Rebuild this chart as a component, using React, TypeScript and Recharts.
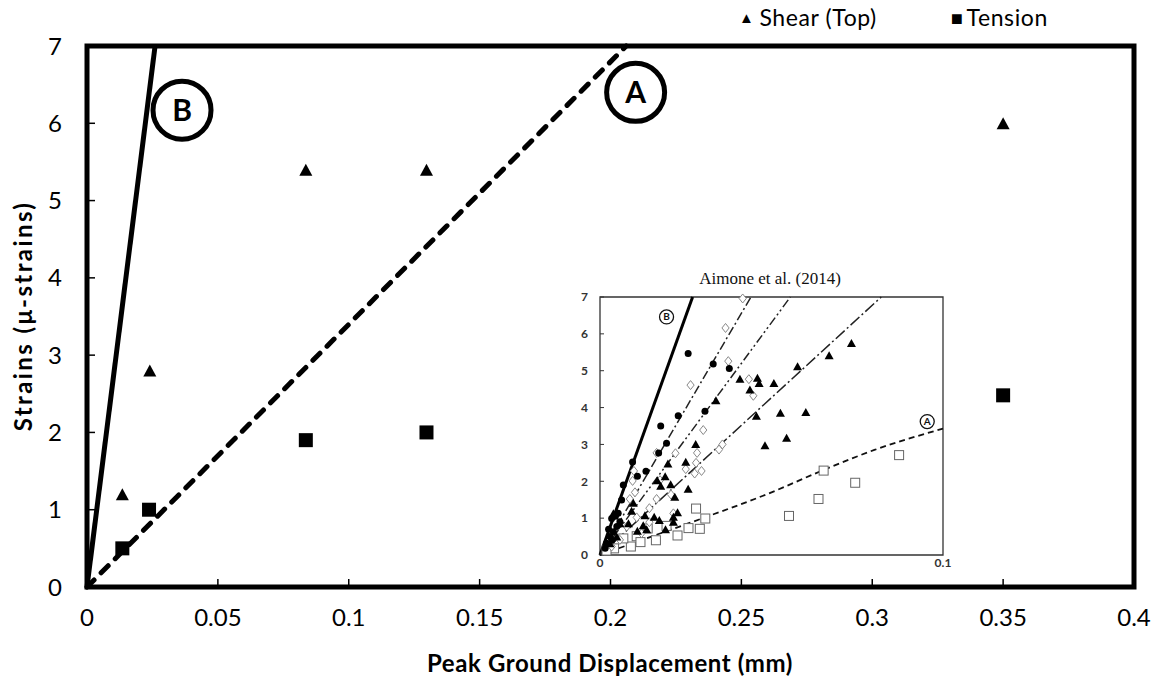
import {
  ReferenceArea,
  ReferenceDot,
  Scatter,
  ScatterChart,
  XAxis,
  YAxis,
} from "recharts";

// main chart values
const pgd = [0.0135, 0.024, 0.0836, 0.1297, 0.35];
const shearTop = [1.2, 2.8, 5.4, 5.4, 6.0];
const tensionPgd = [0.0135, 0.0237, 0.0836, 0.1297, 0.35];
const tension = [0.5, 1.0, 1.9, 2.0, 2.48];
const xTicks = [0, 0.05, 0.1, 0.15, 0.2, 0.25, 0.3, 0.35, 0.4];
const yTicks = [0, 1, 2, 3, 4, 5, 6, 7];

// trend lines: [x, y] end points
const lineB = [
  [0, 0],
  [0.026, 7],
];
const lineA = [
  [0, 0],
  [0.206, 7],
];

// inset (Aimone et al. 2014)
const insetCircles = [
  [0.0257, 5.47], [0.033, 5.18], [0.0377, 5.06], [0.0228, 3.78], [0.0306, 3.9],
  [0.0177, 3.5], [0.0194, 3.03], [0.0171, 2.77], [0.0134, 2.27], [0.0109, 2.14],
  [0.0095, 2.52], [0.0068, 1.9], [0.0063, 1.49], [0.0053, 1.13], [0.0034, 0.99],
  [0.0049, 0.77], [0.0029, 0.5], [0.0019, 0.32], [0.0039, 0.63], [0.0015, 0.18],
  [0.0045, 1.05], [0.0058, 0.9], [0.0025, 0.7], [0.0035, 0.4],
];
const insetDiamonds = [
  [0.0416, 6.96], [0.0366, 6.16], [0.0374, 5.26], [0.0264, 4.61], [0.0434, 4.77],
  [0.0447, 4.32], [0.0301, 3.39], [0.0357, 3.0], [0.0347, 2.86], [0.0283, 2.77],
  [0.022, 2.76], [0.0165, 2.77], [0.028, 2.5], [0.0296, 2.28], [0.025, 2.33],
  [0.0276, 2.21], [0.0099, 2.28], [0.0095, 2.01], [0.0175, 2.03], [0.0102, 1.7],
  [0.0087, 1.52], [0.0165, 1.52], [0.0144, 1.27], [0.0207, 1.64], [0.0214, 1.13],
  [0.0107, 1.02], [0.0144, 0.89], [0.0078, 0.77], [0.0121, 0.59], [0.0058, 0.41],
  [0.0034, 0.23],
];
const insetTriangles = [
  [0.0733, 5.75], [0.0668, 5.42], [0.0576, 5.12], [0.0408, 4.78], [0.0459, 4.81],
  [0.0464, 4.67], [0.0507, 4.67], [0.0437, 4.49], [0.0338, 4.2], [0.0456, 3.78],
  [0.0526, 3.86], [0.06, 3.88], [0.0481, 2.98], [0.0544, 3.18], [0.0279, 3.01],
  [0.025, 2.53], [0.0198, 2.48], [0.019, 2.14], [0.0167, 2.03], [0.0177, 1.88],
  [0.0206, 1.92], [0.0218, 1.58], [0.0257, 1.8], [0.0097, 1.42], [0.0083, 0.86],
  [0.0131, 1.08], [0.0158, 1.04], [0.0173, 0.95], [0.0214, 1.04], [0.0226, 1.16],
  [0.0214, 0.9], [0.0191, 0.7], [0.0109, 0.66], [0.0126, 0.81], [0.0136, 0.7],
  [0.0092, 1.2], [0.0058, 0.86], [0.0039, 1.13], [0.0049, 0.5], [0.0029, 0.32],
];
const insetSquares = [
  [0.0872, 2.71], [0.0652, 2.29], [0.0744, 1.96], [0.0637, 1.52], [0.0551, 1.06],
  [0.028, 1.26], [0.0307, 0.99], [0.0258, 0.73], [0.0291, 0.71], [0.0226, 0.53],
  [0.0194, 0.79], [0.0163, 0.4], [0.0139, 0.72], [0.0107, 0.51], [0.009, 0.23],
  [0.0068, 0.45], [0.0041, 0.18], [0.0019, 0.12], [0.0118, 0.35],
];
const insetB = [[0, 0], [0.027, 7]];
const insetC = [[0, 0], [0.044, 7]];
const insetD = [[0, 0], [0.0555, 7]];
const insetE = [[0, 0], [0.082, 7]];
const insetA = [[0, 0], [0.015, 0.5], [0.03, 1.0], [0.05, 1.7], [0.065, 2.3], [0.08, 2.85], [0.1, 3.43]];

const toXY = (pts: number[][]) => pts.map(([x, y]) => ({ x, y }));
const zip = (xs: number[], ys: number[]) => xs.map((x, i) => ({ x, y: ys[i] }));

const FONT = "Lato, 'Open Sans', sans-serif";

const triangle = (w: number, h: number, fill: string) => (p: any) => (
  <polygon
    points={`${p.cx - w / 2},${p.cy + h / 2} ${p.cx + w / 2},${p.cy + h / 2} ${p.cx},${p.cy - h / 2}`}
    fill={fill}
  />
);
const square = (s: number, fill: string, stroke?: string) => (p: any) => (
  <rect
    x={p.cx - s / 2}
    y={p.cy - s / 2}
    width={s}
    height={s}
    fill={fill}
    stroke={stroke ?? "none"}
    strokeWidth={1}
  />
);
const diamond = (s: number) => (p: any) => (
  <polygon
    points={`${p.cx},${p.cy - s} ${p.cx + s * 0.8},${p.cy} ${p.cx},${p.cy + s} ${p.cx - s * 0.8},${p.cy}`}
    fill="#fff"
    stroke="#888"
    strokeWidth={1}
  />
);
const dot = (r: number) => (p: any) => <circle cx={p.cx} cy={p.cy} r={r} fill="#000" />;
const none = () => null;

function Inset() {
  return (
    <div
      style={{
        position: "absolute",
        left: 570,
        top: 266,
        width: 385,
        height: 307,
        background: "#fff",
      }}
    >
      <div
        style={{
          position: "absolute",
          left: 0,
          width: 400,
          top: 3,
          textAlign: "center",
          fontFamily: "'Liberation Serif', serif",
          fontSize: 17,
          color: "#111",
        }}
      >
        Aimone et al. (2014)
      </div>
      <ScatterChart
        width={385}
        height={307}
        margin={{ top: 31, right: 12, bottom: 2, left: 8 }}
      >
        <XAxis
          type="number"
          dataKey="x"
          domain={[0, 0.1]}
          ticks={[0, 0.1]}
          axisLine={false}
          tickLine={false}
          tickSize={0}
          tickMargin={3}
          height={16}
          tick={{ fill: "#333", fontSize: 12, fontWeight: 700, fontFamily: FONT }}
        />
        <YAxis
          type="number"
          dataKey="y"
          domain={[0, 7]}
          ticks={yTicks}
          axisLine={false}
          tickLine={{ stroke: "#333", strokeWidth: 1 }}
          tickSize={-4}
          tickMargin={16}
          width={22}
          tick={{ fill: "#333", fontSize: 12, fontWeight: 700, fontFamily: FONT }}
        />
        <ReferenceArea x1={0} x2={0.1} y1={0} y2={7} fill="none" stroke="#333" strokeWidth={1.3} />
        <Scatter data={toXY(insetB)} line={{ stroke: "#000", strokeWidth: 3 }} shape={none} isAnimationActive={false} />
        <Scatter data={toXY(insetC)} line={{ stroke: "#222", strokeWidth: 1.5, strokeDasharray: "9 3 2 3" }} shape={none} isAnimationActive={false} />
        <Scatter data={toXY(insetD)} line={{ stroke: "#222", strokeWidth: 1.5, strokeDasharray: "9 3 2 3 2 3" }} shape={none} isAnimationActive={false} />
        <Scatter data={toXY(insetE)} line={{ stroke: "#222", strokeWidth: 1.5, strokeDasharray: "12 3 2 3" }} shape={none} isAnimationActive={false} />
        <Scatter data={toXY(insetA)} line={{ stroke: "#111", strokeWidth: 1.8, strokeDasharray: "6 4" }} lineJointType="monotoneX" shape={none} isAnimationActive={false} />
        <Scatter data={toXY(insetSquares)} shape={square(9, "#fff", "#666")} isAnimationActive={false} />
        <Scatter data={toXY(insetDiamonds)} shape={diamond(4.5)} isAnimationActive={false} />
        <Scatter data={toXY(insetTriangles)} shape={triangle(9, 8, "#000")} isAnimationActive={false} />
        <Scatter data={toXY(insetCircles)} shape={dot(3.5)} isAnimationActive={false} />
        <ReferenceDot
          x={0.0194}
          y={6.46}
          r={7}
          fill="#fff"
          stroke="#111"
          strokeWidth={1.3}
          label={{ value: "B", position: "center", fontSize: 10, fontWeight: 700, fill: "#111", fontFamily: FONT }}
        />
        <ReferenceDot
          x={0.0954}
          y={3.62}
          r={7}
          fill="#fff"
          stroke="#111"
          strokeWidth={1.3}
          label={{ value: "A", position: "center", fontSize: 10, fontWeight: 700, fill: "#111", fontFamily: FONT }}
        />
      </ScatterChart>
    </div>
  );
}

export default function App() {
  return (
    <div
      style={{
        position: "absolute",
        left: 0,
        top: 0,
        width: 1156,
        height: 682,
        background: "#fff",
        fontFamily: FONT,
      }}
    >
      {/* Legend */}
      <div
        style={{
          position: "absolute",
          top: 3,
          left: 739,
          display: "flex",
          alignItems: "center",
          fontSize: 23,
          letterSpacing: 0.6,
          color: "#000",
          whiteSpace: "nowrap",
        }}
      >
        <span style={{ fontSize: 15, marginRight: 5 }}>▲</span>
        <span>Shear (Top)</span>
        <span style={{ fontSize: 20, marginLeft: 74, marginRight: 3 }}>■</span>
        <span>Tension</span>
      </div>

      <ScatterChart
        width={1156}
        height={682}
        margin={{ top: 46, right: 22, bottom: 55, left: 27 }}
      >
        <XAxis
          type="number"
          dataKey="x"
          domain={[0, 0.4]}
          ticks={xTicks}
          axisLine={false}
          tickLine={{ stroke: "#000", strokeWidth: 1.5 }}
          tickSize={-8}
          tickMargin={30}
          height={40}
          tick={{ fill: "#000", fontSize: 24, fontFamily: FONT }}
        />
        <YAxis
          type="number"
          dataKey="y"
          domain={[0, 7]}
          ticks={yTicks}
          axisLine={false}
          tickLine={{ stroke: "#000", strokeWidth: 1.5 }}
          tickSize={-8}
          tickMargin={33}
          width={60}
          tick={{ fill: "#000", fontSize: 24, fontFamily: FONT }}
        />
        <ReferenceArea x1={0} x2={0.4} y1={0} y2={7} fill="none" stroke="#000" strokeWidth={5} />
        <Scatter
          data={toXY(lineB)}
          line={{ stroke: "#000", strokeWidth: 5 }}
          shape={none}
          isAnimationActive={false}
        />
        <Scatter
          data={toXY(lineA)}
          line={{ stroke: "#000", strokeWidth: 5, strokeDasharray: "10 10", strokeLinecap: "round" }}
          shape={none}
          isAnimationActive={false}
        />
        <Scatter
          name="Shear (Top)"
          data={zip(pgd, shearTop)}
          shape={triangle(13, 12, "#000")}
          isAnimationActive={false}
        />
        <Scatter
          name="Tension"
          data={zip(tensionPgd, tension)}
          shape={square(14, "#000")}
          isAnimationActive={false}
        />
        <ReferenceDot
          x={0.0363}
          y={6.17}
          r={29}
          fill="#fff"
          stroke="#000"
          strokeWidth={5}
          label={{ value: "B", position: "center", fontSize: 30, fontWeight: 700, fill: "#000", fontFamily: FONT }}
        />
        <ReferenceDot
          x={0.2096}
          y={6.4}
          r={29}
          fill="#fff"
          stroke="#000"
          strokeWidth={5}
          label={{ value: "A", position: "center", fontSize: 30, fontWeight: 700, fill: "#000", fontFamily: FONT }}
        />
      </ScatterChart>

      <Inset />

      {/* Axis titles */}
      <div
        style={{
          position: "absolute",
          left: 610,
          top: 662,
          transform: "translate(-50%, -50%)",
          fontSize: 24,
          letterSpacing: 0.6,
          fontWeight: 700,
          whiteSpace: "nowrap",
        }}
      >
        Peak Ground Displacement (mm)
      </div>
      <div
        style={{
          position: "absolute",
          left: 22,
          top: 316,
          transform: "translate(-50%, -50%) rotate(-90deg)",
          fontSize: 24,
          letterSpacing: 2.4,
          fontWeight: 700,
          whiteSpace: "nowrap",
        }}
      >
        Strains (μ-strains)
      </div>
    </div>
  );
}
